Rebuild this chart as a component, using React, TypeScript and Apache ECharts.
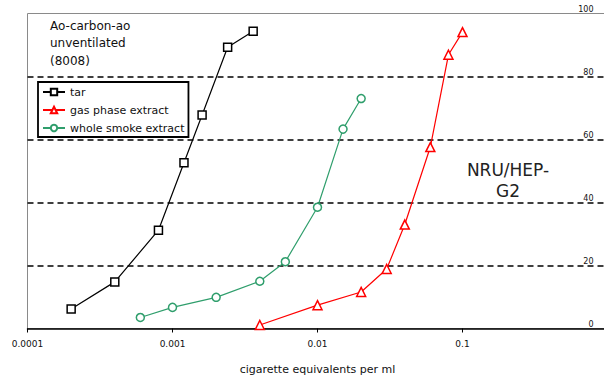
import React, { useEffect, useRef } from "react";
import * as echarts from "echarts";

const xTicks = [0.0001, 0.001, 0.01, 0.1, 1];
const xTickLabels = ["0.0001", "0.001", "0.01", "0.1", ""];
const yTicks = [0, 20, 40, 60, 80, 100];

const seriesNames = ["tar", "gas phase extract", "whole smoke extract"];

const tarDose = [0.0002, 0.0004, 0.0008, 0.0012, 0.0016, 0.0024, 0.0036];
const tarValue = [6.2, 14.8, 31.2, 52.6, 67.8, 89.3, 94.4];

const gasDose = [0.004, 0.01, 0.02, 0.03, 0.04, 0.06, 0.08, 0.1];
const gasValue = [1.1, 7.4, 11.6, 18.9, 33.0, 57.6, 86.9, 94.1];

const wholeDose = [0.0006, 0.001, 0.002, 0.004, 0.006, 0.01, 0.015, 0.02];
const wholeValue = [3.5, 6.7, 9.9, 15.0, 21.2, 38.5, 63.3, 73.0];

const titleLines = ["Ao-carbon-ao", "unventilated", "(8008)"];
const cellLabel = ["NRU/HEP-", "G2"];
const xName = "cigarette equivalents per ml";

const FONT = "DejaVu Sans, Verdana, sans-serif";

function pairs(xs: number[], ys: number[]) {
  return xs.map((x, i) => [x, ys[i]]);
}

export default function App() {
  const ref = useRef<HTMLDivElement>(null);
  useEffect(() => {
    if (!ref.current) return;
    const chart = echarts.init(ref.current, null, { renderer: "svg" });
    const fmt = (v: number) => {
      const i = xTicks.findIndex((t) => Math.abs(Math.log10(t) - Math.log10(v)) < 1e-6);
      return i >= 0 ? xTickLabels[i] : "";
    };
    chart.setOption({
      animation: false,
      backgroundColor: "#fff",
      textStyle: { fontFamily: FONT },
      grid: {
        left: 27.5,
        top: 13.5,
        width: 580,
        height: 315,
        outerBoundsMode: "none",
        containLabel: false,
        show: true,
        borderColor: "#8a8a8a",
        borderWidth: 1,
        backgroundColor: "transparent",
      },
      legend: {
        data: seriesNames,
        orient: "vertical",
        left: 38,
        top: 82,
        itemWidth: 22,
        itemHeight: 8,
        itemGap: 6,
        padding: [4, 4, 3, 4],
        backgroundColor: "#fff",
        borderColor: "#000",
        borderWidth: 1.8,
        borderRadius: 0,
        textStyle: { fontFamily: FONT, fontSize: 11, color: "#111", lineHeight: 12 },
      },
      xAxis: {
        type: "log",
        logBase: 10,
        min: xTicks[0],
        max: xTicks[xTicks.length - 1],
        name: xName,
        nameLocation: "middle",
        nameGap: 35,
        nameTextStyle: { fontFamily: FONT, fontSize: 11, color: "#111" },
        axisLine: { show: true, onZero: false, lineStyle: { color: "#000", width: 1.5 } },
        axisTick: { show: true, length: 4, lineStyle: { color: "#000", width: 1 } },
        minorTick: { show: false },
        splitLine: { show: false },
        axisLabel: {
          fontFamily: FONT,
          fontSize: 9,
          color: "#111",
          margin: 11,
          formatter: fmt,
        },
      },
      yAxis: [
        {
          type: "value",
          min: yTicks[0],
          max: yTicks[yTicks.length - 1],
          interval: 20,
          position: "right",
          axisLine: { show: false },
          axisTick: { show: false },
          axisLabel: { show: false },
          splitLine: {
            show: true,
            showMinLine: false,
            showMaxLine: false,
            lineStyle: { color: "#000", width: 1.5, type: [6, 4] },
          },
        },
        {
          type: "value",
          min: yTicks[0],
          max: yTicks[yTicks.length - 1],
          interval: 20,
          position: "right",
          z: 10,
          axisLine: { show: false },
          axisTick: { show: false },
          splitLine: { show: false },
          axisLabel: {
            inside: true,
            margin: 14,
            fontFamily: FONT,
            fontSize: 8,
            color: "#111",
            verticalAlign: "bottom",
          },
        },
      ],
      series: [
        {
          name: seriesNames[0],
          type: "line",
          yAxisIndex: 0,
          data: pairs(tarDose, tarValue),
          symbol: "rect",
          symbolSize: 8,
          lineStyle: { color: "#000", width: 1.2 },
          itemStyle: { color: "#fff", borderColor: "#000", borderWidth: 1.5 },
          z: 3,
        },
        {
          name: seriesNames[1],
          type: "line",
          yAxisIndex: 0,
          data: pairs(gasDose, gasValue),
          symbol: "triangle",
          symbolSize: 9,
          lineStyle: { color: "#ff0000", width: 1.2 },
          itemStyle: { color: "#fff", borderColor: "#ff0000", borderWidth: 1.5 },
          z: 3,
        },
        {
          name: seriesNames[2],
          type: "line",
          yAxisIndex: 0,
          data: pairs(wholeDose, wholeValue),
          symbol: "circle",
          symbolSize: 8,
          lineStyle: { color: "#2f9e6c", width: 1.2 },
          itemStyle: { color: "#fff", borderColor: "#2f9e6c", borderWidth: 1.5 },
          z: 3,
        },
      ],
      graphic: [
        {
          type: "text",
          left: 50,
          top: 17,
          z: 20,
          style: {
            text: titleLines.join("\n"),
            fontFamily: FONT,
            fontSize: 12,
            lineHeight: 17.5,
            fill: "#111",
          },
        },
        {
          type: "text",
          x: 508,
          y: 159,
          z: 20,
          style: {
            text: cellLabel.join("\n"),
            fontFamily: FONT,
            fontSize: 17,
            lineHeight: 21,
            fill: "#222",
            align: "center",
          },
        },
      ],
    });
    return () => chart.dispose();
  }, []);
  return (
    <div
      ref={ref}
      style={{ position: "fixed", left: 0, top: 0, width: 604, height: 381 }}
    />
  );
}
